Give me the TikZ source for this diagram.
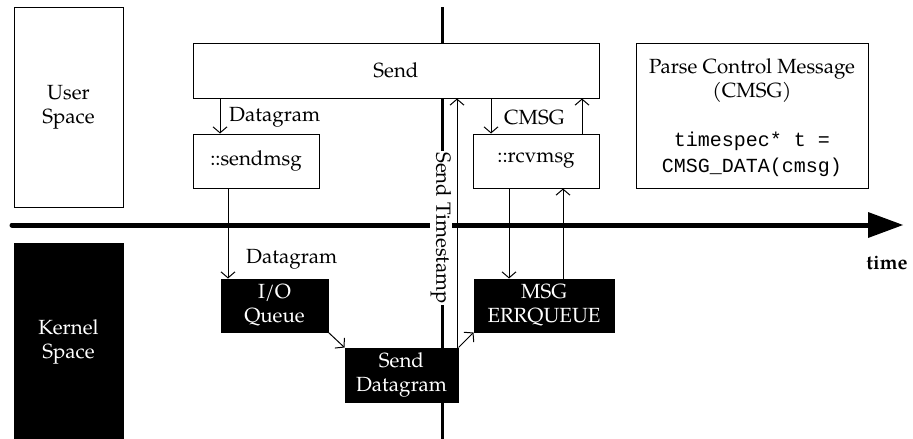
\documentclass[tikz,border=0pt]{standalone}
\usepackage{fontspec}
\setmainfont{TeX Gyre Pagella}
\setmonofont{Liberation Mono}
\usetikzlibrary{arrows.meta}
\tikzset{
  wbox/.style={draw=black, line width=1pt, fill=white, inner sep=0pt, align=center},
  bbox/.style={draw=black, line width=1pt, fill=black, text=white, inner sep=0pt, align=center},
  arr/.style={line width=1pt, -{Straight Barb[length=6pt,width=14pt]}},
  lbl/.style={inner sep=0pt, anchor=west}
}
\begin{document}
\begin{tikzpicture}[x=1pt,y=-1pt,font=\fontsize{20.5}{24}\selectfont]
\useasboundingbox (0,0) rectangle (913,439);
% timeline
\coordinate (tl0) at (12,225);
\coordinate (tl1) at (870,225);
\coordinate (tipA) at (868,212);
\coordinate (tipB) at (903,225);
\coordinate (tipC) at (868,238);
\draw[line width=5pt, line cap=round] (tl0) -- (tl1);
\fill (tipA) -- (tipB) -- (tipC) -- cycle;
\node[font=\fontsize{20}{24}\selectfont\bfseries] (time) at (887,263) {time};
% vertical line
\coordinate (vtop) at (442,7);
\coordinate (vbot) at (442,439);
\draw[line width=3pt] (vtop) -- (vbot);
% boxes
\node[wbox, minimum width=109, minimum height=200] (user) at (68.5,107) {User\\Space};
\node[bbox, minimum width=109, minimum height=198] (kernel) at (68.5,342) {Kernel\\Space};
\node[wbox, minimum width=406, minimum height=55] (send) at (396,70.5) {Send};
\node[wbox, minimum width=126, minimum height=54] (sendmsg) at (256,161) {::sendmsg};
\node[wbox, minimum width=126, minimum height=54] (rcvmsg) at (536,161) {::rcvmsg};
\node[wbox, minimum width=232, minimum height=145] (parse) at (752,115.5) {};
\node[inner sep=0pt, align=center] (parset) at (752,81) {Parse Control Message\\(CMSG)};
\node[inner sep=0pt, align=center, font=\fontsize{20}{26}\selectfont\ttfamily] (parsec) at (752,154) {timespec* t =\\CMSG\_DATA(cmsg)};
\node[bbox, minimum width=107, minimum height=53] (ioq) at (274.5,305.5) {I/O\\Queue};
\node[bbox, minimum width=113, minimum height=54] (sdg) at (401.5,375) {Send\\Datagram};
\node[bbox, minimum width=140, minimum height=53] (msgq) at (544,305.5) {MSG\\ERRQUEUE};
% labels
\node[lbl] (l1) at (229,117) {Datagram};
\node[lbl] (l2) at (246,259) {Datagram};
\node[lbl] (l3) at (504,117) {CMSG};
% send timestamp label
\node[fill=white, inner sep=1pt, rotate=-90] (stamp) at (441,228) {Send Timestamp};
% connectors
\draw[arr] (send.south -| 220,0) -- (sendmsg.north -| 220,0);
\draw[arr] (sendmsg.south -| 228,0) -- (ioq.north -| 228,0);
\draw[arr] (ioq.south east) -- (sdg.north west);
\draw[arr] (sdg.north -| 457,0) -- (send.south -| 457,0);
\draw[arr] (sdg.north east) -- (msgq.south west);
\draw[arr] (send.south -| 491,0) -- (rcvmsg.north -| 491,0);
\draw[arr] (rcvmsg.north -| 582,0) -- (send.south -| 582,0);
\draw[arr] (rcvmsg.south -| 509,0) -- (msgq.north -| 509,0);
\draw[arr] (msgq.north -| 563,0) -- (rcvmsg.south -| 563,0);
\end{tikzpicture}
\end{document}
